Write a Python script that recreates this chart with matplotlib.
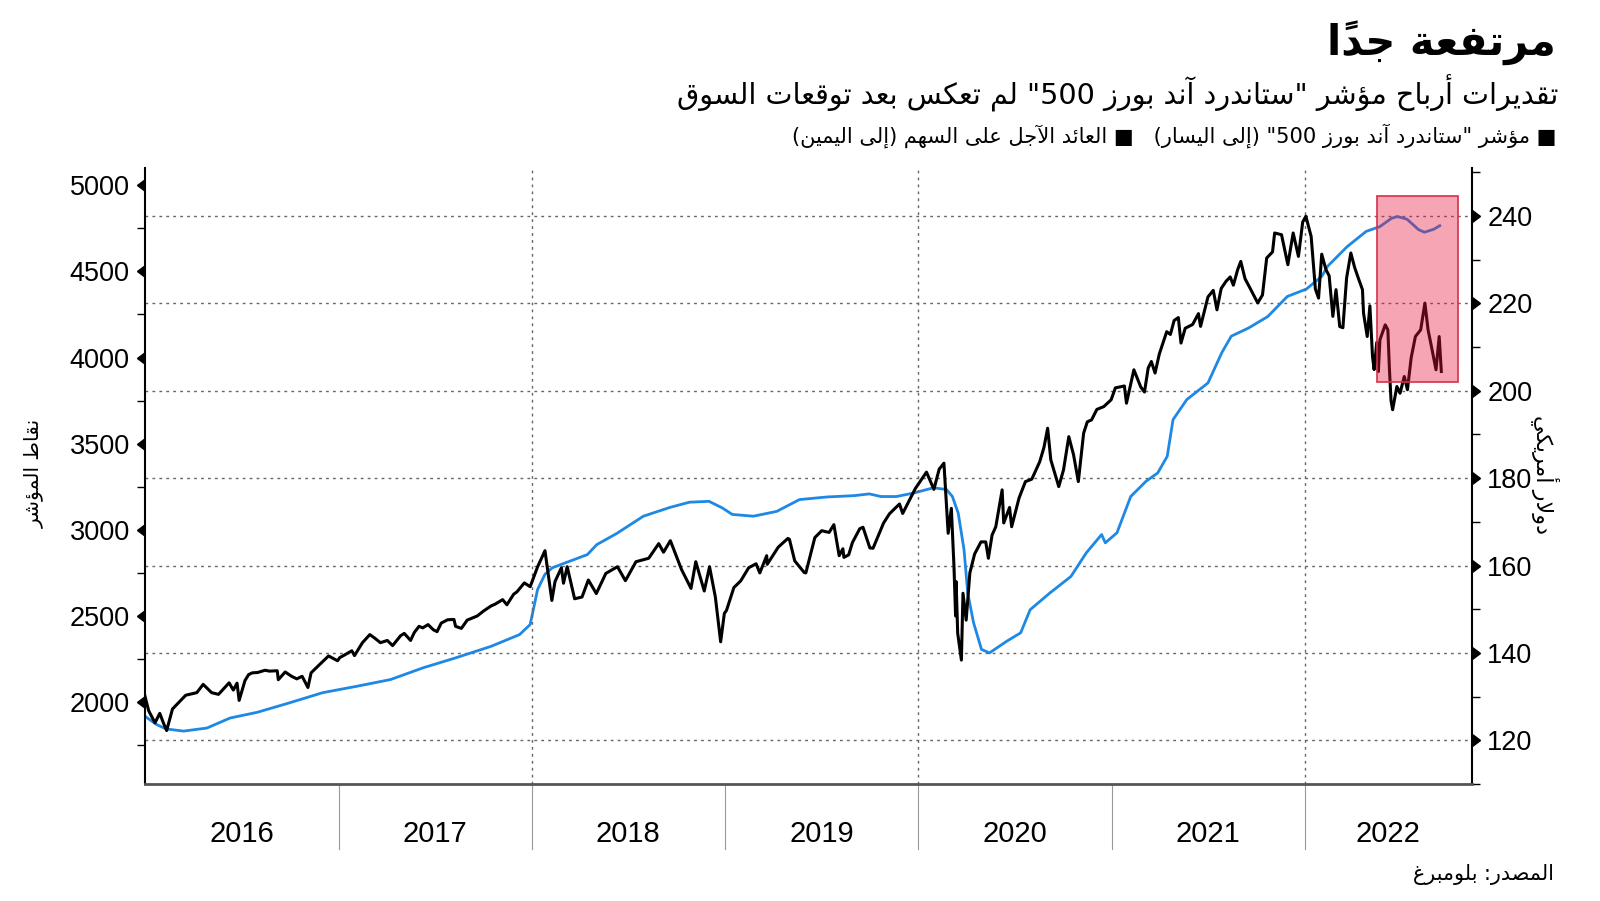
import matplotlib
matplotlib.use("Agg")
import matplotlib.pyplot as plt
import matplotlib.dates as mdates
import matplotlib.transforms as mtransforms
from matplotlib.patches import Rectangle
from matplotlib.colors import to_rgba
import pandas as pd

# S&P 500 index (left axis)
spx_dates = [
    "2016-01-01", "2016-01-08", "2016-01-20", "2016-01-29", "2016-02-05", "2016-02-11",
    "2016-02-22", "2016-03-04", "2016-03-18", "2016-04-08", "2016-04-20", "2016-05-06",
    "2016-05-19", "2016-06-08", "2016-06-16", "2016-06-23", "2016-06-27", "2016-07-08",
    "2016-07-15", "2016-07-22", "2016-08-01", "2016-08-15", "2016-08-23", "2016-09-07",
    "2016-09-09", "2016-09-22", "2016-10-04", "2016-10-14", "2016-10-24", "2016-11-04",
    "2016-11-10", "2016-11-25", "2016-12-13", "2016-12-30",
    "2017-01-03", "2017-01-13", "2017-01-26", "2017-01-31", "2017-02-15", "2017-03-01",
    "2017-03-10", "2017-03-21", "2017-04-03", "2017-04-13", "2017-04-28", "2017-05-05",
    "2017-05-17", "2017-05-24", "2017-06-02", "2017-06-09", "2017-06-19", "2017-06-29",
    "2017-07-06", "2017-07-14", "2017-07-26", "2017-08-07", "2017-08-10", "2017-08-21",
    "2017-09-01", "2017-09-20", "2017-10-02", "2017-10-16", "2017-10-24", "2017-11-07",
    "2017-11-15", "2017-11-28", "2017-12-04", "2017-12-18", "2017-12-29",
    "2018-01-12", "2018-01-26", "2018-02-08", "2018-02-14", "2018-02-26", "2018-03-02",
    "2018-03-09", "2018-03-23", "2018-04-06", "2018-04-18", "2018-05-03", "2018-05-21",
    "2018-06-12", "2018-06-27", "2018-07-17", "2018-08-10", "2018-08-29", "2018-09-07",
    "2018-09-20", "2018-10-11", "2018-10-29", "2018-11-07", "2018-11-23", "2018-12-03",
    "2018-12-14", "2018-12-24", "2018-12-31",
    "2019-01-04", "2019-01-18", "2019-01-31", "2019-02-15", "2019-03-01", "2019-03-08",
    "2019-03-21", "2019-03-22", "2019-04-12", "2019-04-30", "2019-05-03", "2019-05-13",
    "2019-05-31", "2019-06-03", "2019-06-20", "2019-07-03", "2019-07-17", "2019-07-26",
    "2019-08-05", "2019-08-12", "2019-08-14", "2019-08-23", "2019-08-30", "2019-09-13",
    "2019-09-19", "2019-10-02", "2019-10-08", "2019-10-28", "2019-11-08", "2019-11-27",
    "2019-12-03", "2019-12-27",
    "2020-01-17", "2020-01-31", "2020-02-10", "2020-02-19", "2020-02-27", "2020-03-04",
    "2020-03-09", "2020-03-12", "2020-03-13", "2020-03-16", "2020-03-23", "2020-03-26",
    "2020-04-01", "2020-04-08", "2020-04-17", "2020-04-29", "2020-05-08", "2020-05-13",
    "2020-05-20", "2020-05-27", "2020-06-08", "2020-06-11", "2020-06-22", "2020-06-26",
    "2020-07-10", "2020-07-22", "2020-08-03", "2020-08-18", "2020-08-26", "2020-09-02",
    "2020-09-08", "2020-09-23", "2020-10-02", "2020-10-12", "2020-10-21", "2020-10-30",
    "2020-11-09", "2020-11-16", "2020-11-24", "2020-12-04", "2020-12-17", "2020-12-31",
    "2021-01-08", "2021-01-25", "2021-01-29", "2021-02-12", "2021-02-25", "2021-03-04",
    "2021-03-11", "2021-03-17", "2021-03-24", "2021-04-01", "2021-04-15", "2021-04-22",
    "2021-04-29", "2021-05-07", "2021-05-12", "2021-05-20", "2021-06-03", "2021-06-14",
    "2021-06-18", "2021-07-02", "2021-07-12", "2021-07-19", "2021-07-27", "2021-08-05",
    "2021-08-13", "2021-08-19", "2021-08-27", "2021-09-02", "2021-09-10", "2021-09-20",
    "2021-09-28", "2021-10-04", "2021-10-13", "2021-10-21", "2021-11-01", "2021-11-05",
    "2021-11-18", "2021-11-26", "2021-11-30", "2021-12-10", "2021-12-20", "2021-12-28",
    "2022-01-03", "2022-01-13", "2022-01-21", "2022-01-27", "2022-02-02", "2022-02-10",
    "2022-02-16", "2022-02-23", "2022-03-01", "2022-03-08", "2022-03-14", "2022-03-21",
    "2022-03-29", "2022-04-05", "2022-04-11", "2022-04-20", "2022-04-22", "2022-04-29",
    "2022-05-04", "2022-05-09", "2022-05-12", "2022-05-17", "2022-05-20", "2022-05-23",
    "2022-06-02", "2022-06-07", "2022-06-10", "2022-06-13", "2022-06-16", "2022-06-24",
    "2022-06-30", "2022-07-08", "2022-07-14", "2022-07-21", "2022-07-29", "2022-08-08",
    "2022-08-16", "2022-08-22", "2022-08-26", "2022-09-06", "2022-09-12", "2022-09-16",
]
spx_values = [
    2035, 1950, 1880, 1935, 1878, 1835,
    1960, 1995, 2040, 2055, 2103, 2055,
    2045, 2112, 2070, 2110, 2010, 2125,
    2160, 2170, 2172, 2185, 2180, 2182,
    2130, 2175, 2150, 2135, 2150, 2085,
    2170, 2215, 2268, 2240,
    2258, 2275, 2298, 2270, 2345, 2392,
    2372, 2345, 2358, 2328, 2385, 2399,
    2358, 2404, 2440, 2431, 2450, 2420,
    2409, 2459, 2478, 2480, 2440, 2428,
    2476, 2500, 2529, 2558, 2569, 2595,
    2565, 2627, 2640, 2692, 2670,
    2785, 2879, 2590, 2700, 2780, 2690,
    2786, 2600, 2610, 2709, 2630, 2747,
    2786, 2705, 2815, 2835, 2920, 2870,
    2937, 2770, 2660, 2815, 2645, 2786,
    2610, 2350, 2515,
    2532, 2665, 2704, 2780, 2803, 2750,
    2850, 2800, 2900, 2950, 2945, 2820,
    2752, 2750, 2955, 2995, 2985, 3030,
    2850, 2890, 2840, 2855, 2926, 3007,
    3015, 2895, 2893, 3040, 3093, 3150,
    3095, 3240,
    3335, 3235, 3352, 3387, 2980, 3125,
    2786, 2500, 2700, 2400, 2244, 2632,
    2476, 2750, 2860, 2930, 2930, 2835,
    2970, 3018, 3232, 3040, 3130, 3018,
    3185, 3280, 3294, 3395, 3478, 3590,
    3406, 3251, 3348, 3541, 3435, 3280,
    3561, 3627, 3638, 3699, 3715, 3755,
    3824, 3835, 3735, 3929, 3829, 3800,
    3939, 3977, 3910, 4020, 4150, 4134,
    4215, 4232, 4084, 4170, 4192, 4255,
    4181, 4352, 4390, 4277, 4401, 4442,
    4468, 4420, 4509, 4558, 4458, 4400,
    4352, 4317, 4363, 4578, 4613, 4723,
    4713, 4595, 4539, 4723, 4587, 4786,
    4820, 4703, 4398, 4345, 4600, 4510,
    4475, 4239, 4394, 4180, 4173, 4462,
    4607, 4525, 4471, 4394, 4258, 4122,
    4300, 4006, 3930, 4088, 3919, 4103,
    4190, 4161, 3929, 3750, 3697, 3832,
    3793, 3890, 3813, 3998, 4122, 4161,
    4316, 4160, 4100, 3929, 4122, 3919,
]

# forward earnings per share (right axis)
eps_dates = [
    "2016-01-01", "2016-01-23", "2016-02-10", "2016-03-14", "2016-04-27", "2016-06-10",
    "2016-07-31", "2016-10-01", "2016-12-02", "2017-02-06", "2017-04-09", "2017-06-10",
    "2017-08-11", "2017-10-16", "2017-12-09", "2017-12-29", "2018-01-05", "2018-01-12",
    "2018-01-26", "2018-02-09", "2018-03-14", "2018-04-16", "2018-05-04", "2018-06-10",
    "2018-07-31", "2018-09-19", "2018-10-26", "2018-12-02", "2018-12-27", "2019-01-15",
    "2019-02-24", "2019-04-09", "2019-05-22", "2019-07-13", "2019-09-02", "2019-10-01",
    "2019-10-23", "2019-11-21", "2019-12-24", "2020-01-30", "2020-02-24", "2020-03-06",
    "2020-03-17", "2020-03-28", "2020-04-04", "2020-04-15", "2020-04-30", "2020-05-15",
    "2020-06-17", "2020-07-13", "2020-07-31", "2020-09-06", "2020-10-16", "2020-11-14",
    "2020-12-13", "2020-12-20", "2021-01-11", "2021-02-06", "2021-03-07", "2021-03-29",
    "2021-04-16", "2021-04-27", "2021-05-23", "2021-07-02", "2021-07-28", "2021-08-15",
    "2021-09-17", "2021-10-23", "2021-11-29", "2022-01-04", "2022-02-02", "2022-02-13",
    "2022-03-22", "2022-04-27", "2022-05-23", "2022-06-14", "2022-06-25", "2022-07-13",
    "2022-08-04", "2022-08-15", "2022-09-02", "2022-09-13",
]
eps_values = [
    125.5, 123.6, 122.6, 122.1, 122.8, 125.1,
    126.4, 128.6, 130.9, 132.4, 133.9, 136.6,
    138.9, 141.5, 144.2, 146.5, 150.5, 154.5,
    158.0, 159.5, 161.0, 162.5, 164.8, 167.3,
    171.3, 173.3, 174.5, 174.7, 173.2, 171.7,
    171.3, 172.4, 175.1, 175.7, 176.0, 176.4,
    175.8, 175.8, 176.6, 177.8, 177.4, 175.8,
    172.0, 163.6, 153.7, 146.9, 140.8, 140.0,
    142.7, 144.6, 149.9, 153.7, 157.5, 162.9,
    167.1, 165.2, 167.5, 175.8, 179.3, 181.2,
    185.0, 193.4, 198.0, 201.8, 208.7, 212.5,
    214.4, 217.0, 221.6, 223.3, 226.2, 228.5,
    233.0, 236.5, 237.6, 239.5, 239.9, 239.3,
    236.9, 236.3, 237.0, 237.8,
]

years = [2016, 2017, 2018, 2019, 2020, 2021, 2022]
grid_years = [2018, 2020, 2022]
box_start, box_end = "2022-05-18", "2022-10-18"
box_low, box_high = 202.0, 244.7

title = "مرتفعة جداً"
subtitle = 'تقديرات أرباح مؤشر "ستاندرد آند بورز 500" لم تعكس بعد توقعات السوق'
legend_text = '■ مؤشر "ستاندرد آند بورز 500" (إلى اليسار)   ■ العائد الآجل على السهم (إلى اليمين)'
left_label = "نقاط المؤشر"
right_label = "دولار أمريكي"
source = "المصدر: بلومبرغ"


# --- very small Arabic shaper: presentation forms + visual reordering ---
FORMS = {
    "\u0621": (0xFE80, 1), "\u0622": (0xFE81, 2), "\u0623": (0xFE83, 2), "\u0624": (0xFE85, 2),
    "\u0625": (0xFE87, 2), "\u0626": (0xFE89, 4), "\u0627": (0xFE8D, 2), "\u0628": (0xFE8F, 4),
    "\u0629": (0xFE93, 2), "\u062A": (0xFE95, 4), "\u062B": (0xFE99, 4), "\u062C": (0xFE9D, 4),
    "\u062D": (0xFEA1, 4), "\u062E": (0xFEA5, 4), "\u062F": (0xFEA9, 2), "\u0630": (0xFEAB, 2),
    "\u0631": (0xFEAD, 2), "\u0632": (0xFEAF, 2), "\u0633": (0xFEB1, 4), "\u0634": (0xFEB5, 4),
    "\u0635": (0xFEB9, 4), "\u0636": (0xFEBD, 4), "\u0637": (0xFEC1, 4), "\u0638": (0xFEC5, 4),
    "\u0639": (0xFEC9, 4), "\u063A": (0xFECD, 4), "\u0641": (0xFED1, 4), "\u0642": (0xFED5, 4),
    "\u0643": (0xFED9, 4), "\u0644": (0xFEDD, 4), "\u0645": (0xFEE1, 4), "\u0646": (0xFEE5, 4),
    "\u0647": (0xFEE9, 4), "\u0648": (0xFEED, 2), "\u0649": (0xFEEF, 2), "\u064A": (0xFEF1, 4),
}
LAMALEF = {"\u0622": 0xFEF5, "\u0623": 0xFEF7, "\u0625": 0xFEF9, "\u0627": 0xFEFB}


def is_mark(c):
    return "\u064B" <= c <= "\u0652"


def ar(s):
    n = len(s)
    shaped = []
    prev_joins = False
    i = 0
    while i < n:
        c = s[i]
        if c not in FORMS:
            shaped.append(c)
            if not is_mark(c):
                prev_joins = False
            i += 1
            continue
        base, k = FORMS[c]
        j = i + 1
        while j < n and is_mark(s[j]):
            j += 1
        nxt = s[j] if j < n else None
        if c == "\u0644" and nxt in LAMALEF:
            shaped.append(chr(LAMALEF[nxt] + (1 if prev_joins else 0)))
            prev_joins = False
            i = j + 1
            continue
        link_prev = prev_joins and k > 1
        link_next = k == 4 and nxt in FORMS and FORMS[nxt][1] > 1
        if k == 4:
            off = {(True, True): 3, (True, False): 1, (False, True): 2, (False, False): 0}[(link_prev, link_next)]
        else:
            off = 1 if link_prev else 0
        shaped.append(chr(base + off))
        prev_joins = link_next
        i += 1
    clusters = []
    for ch in shaped:
        if is_mark(ch) and clusters:
            clusters[-1] += ch
        else:
            clusters.append(ch)
    runs = []
    for cl in clusters:
        ltr = cl[0].isascii() and cl[0].isalnum()
        if runs and ltr and runs[-1][0]:
            runs[-1][1].append(cl)
        else:
            runs.append([ltr, [cl]])
    out = "".join("".join(cls) for ltr, cls in reversed(runs))
    mirror = {"(": ")", ")": "("}
    return "".join(mirror.get(c, c) for c in out)


spx_x = pd.to_datetime(spx_dates)
eps_x = pd.to_datetime(eps_dates)

fig = plt.figure(figsize=(16, 9.01), dpi=100)
ax = fig.add_axes([0.0906, 0.1299, 0.8294, 0.6836])
ax2 = ax.twinx()

ax2.plot(eps_x, eps_values, color="#1e88e5", lw=2.0)
ax.plot(spx_x, spx_values, color="black", lw=2.2)

ax.set_zorder(ax2.get_zorder() + 1)
ax.patch.set_visible(False)

ax.set_xlim(pd.Timestamp("2016-01-01"), pd.Timestamp("2022-11-13"))
ax.set_ylim(1525, 5100)
ax2.set_ylim(110.1, 251)

ax.set_yticks(range(2000, 5001, 500))
ax.set_yticks(range(1750, 5100, 250), minor=True)
ax2.set_yticks(range(120, 241, 20))
ax2.set_yticks(range(110, 251, 10), minor=True)
ax.set_xticks([])
ax2.set_xticks([])

tick_font = {"family": "Liberation Sans", "size": 19.5}
ax.set_yticklabels([str(v) for v in range(2000, 5001, 500)], fontdict=tick_font)
ax2.set_yticklabels([str(v) for v in range(120, 241, 20)], fontdict=tick_font)
ax.tick_params(axis="y", which="major", length=8, width=1, pad=3, color="black")
ax.tick_params(axis="y", which="minor", length=6, width=1, color="black")
ax2.tick_params(axis="y", which="major", length=8, width=1, pad=3, color="black")
ax2.tick_params(axis="y", which="minor", length=6, width=1, color="black")
for t in ax.yaxis.get_major_ticks():
    t.tick1line.set_marker(8)
for t in ax2.yaxis.get_major_ticks():
    t.tick2line.set_marker(9)

ax2.yaxis.grid(True, which="major", color="#666666", lw=1, ls=(0, (2, 3)))

for s in ["top", "right"]:
    ax.spines[s].set_visible(False)
for s in ["top", "left", "bottom"]:
    ax2.spines[s].set_visible(False)
ax.spines["left"].set_linewidth(1.5)
ax.spines["bottom"].set_color("#555555")
ax.spines["bottom"].set_linewidth(2)
ax2.spines["right"].set_linewidth(1.5)

for y in grid_years:
    ax.axvline(pd.Timestamp(f"{y}-01-01"), color="#666666", lw=1, ls=(0, (2, 3)), zorder=0)

trans = mtransforms.blended_transform_factory(ax.transData, ax.transAxes)
xend = ax.get_xlim()[1]
for y in years:
    x0 = mdates.date2num(pd.Timestamp(f"{y}-01-01"))
    x1 = min(mdates.date2num(pd.Timestamp(f"{y + 1}-01-01")), xend)
    if y > years[0]:
        ax.plot([x0, x0], [0, -0.105], transform=trans, color="#999999", lw=0.8, clip_on=False)
    ax.text((x0 + x1) / 2, -0.081, str(y), transform=trans, ha="center", va="center",
            family="Liberation Sans", fontsize=21)

# highlight box for the recent period
bx0 = mdates.date2num(pd.Timestamp(box_start))
bx1 = mdates.date2num(pd.Timestamp(box_end))
rect = Rectangle((bx0, box_low), bx1 - bx0, box_high - box_low, transform=ax2.transData,
                 facecolor=to_rgba("#e8143c", 0.38), edgecolor="#d6304a", lw=1.2, zorder=5)
ax.add_artist(rect)

fig.text(0.9725, 0.953, ar(title), ha="right", va="center", family="DejaVu Sans",
         fontweight="bold", fontsize=30)
fig.text(0.974, 0.896, ar(subtitle), ha="right", va="center", family="DejaVu Sans", fontsize=20.6)
fig.text(0.9725, 0.849, ar(legend_text), ha="right", va="center", family="DejaVu Sans", fontsize=15.1)
fig.text(0.021, 0.474, ar(left_label), ha="center", va="center", rotation=90,
         family="DejaVu Sans", fontsize=14.5)
fig.text(0.966, 0.473, ar(right_label), ha="center", va="center", rotation=270,
         family="DejaVu Sans", fontsize=16)
fig.text(0.971, 0.029, ar(source), ha="right", va="center", family="DejaVu Sans", fontsize=14.9)

fig.savefig("out.png", dpi=100)
